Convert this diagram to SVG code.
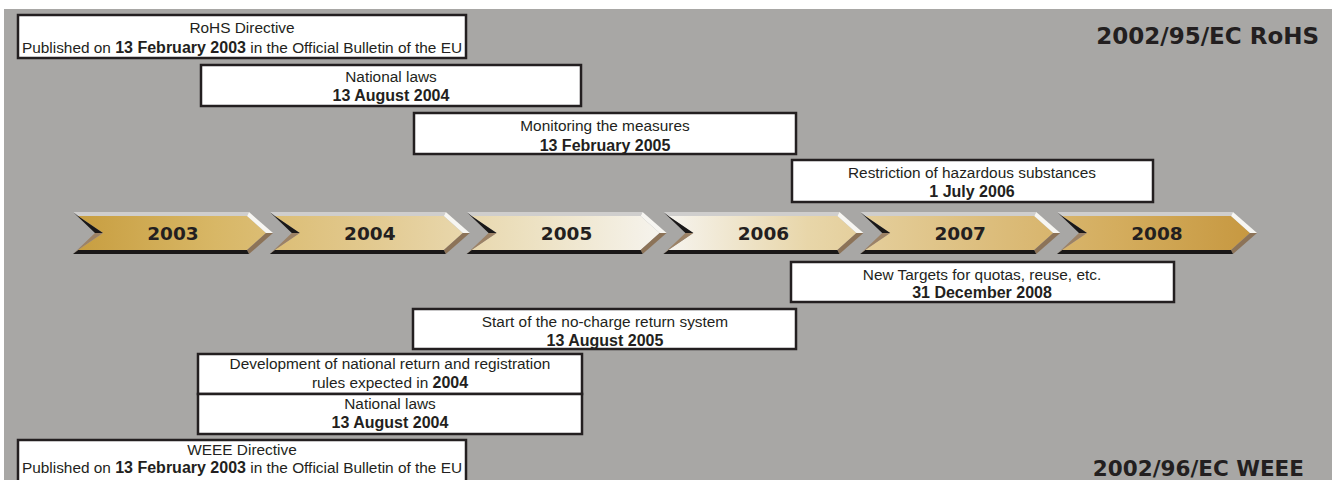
<svg xmlns="http://www.w3.org/2000/svg" width="1332" height="480" viewBox="0 0 1332 480">
<style>
.box{fill:#ffffff;stroke:#231f20;stroke-width:2.5}
.t{font-family:"Liberation Sans",Arial,sans-serif;font-size:15.4px;fill:#231f20;text-anchor:middle}
.b{font-family:"Liberation Sans",Arial,sans-serif;font-size:16px;font-weight:bold;fill:#231f20}
.yr{font-family:"DejaVu Sans",sans-serif;font-size:18.5px;font-weight:bold;fill:#231f20;text-anchor:middle}
.ttl{font-family:"DejaVu Sans",sans-serif;font-size:22.5px;font-weight:bold;fill:#231f20;text-anchor:end}
</style>
<defs>
<linearGradient id="tl" gradientUnits="userSpaceOnUse" x1="73" y1="0" x2="1258" y2="0">
<stop offset="0" stop-color="#c79d3f"/>
<stop offset="0.12" stop-color="#d8b766"/>
<stop offset="0.25" stop-color="#e2c98f"/>
<stop offset="0.38" stop-color="#ece0bf"/>
<stop offset="0.5" stop-color="#f6f4ef"/>
<stop offset="0.62" stop-color="#e8d6a9"/>
<stop offset="0.75" stop-color="#dec183"/>
<stop offset="0.88" stop-color="#d4ad5e"/>
<stop offset="1" stop-color="#c6973f"/>
</linearGradient>
<g id="bev">
<polygon points="0,212 176,212 174,216 5,216" fill="#ffffff" fill-opacity="0.45"/>
<polygon points="176,212 200,233 193,233 174,216" fill="#f7f6f2"/>
<polygon points="200,233 176,254 174,250 193,233" fill="#8c7358"/>
<polygon points="176,254 0,254 5,250 174,250" fill="#1a1818"/>
<polygon points="0,254 22,233 30,233 5,250" fill="#9c8266"/>
<polygon points="22,233 0,212 5,216 30,233" fill="#1a1818"/>
</g>
</defs>
<rect x="4" y="9" width="1328" height="471" fill="#a8a7a5"/>
<g id="connectors"/>
<g id="titles">
<text class="ttl" x="1319" y="44" style="font-size:23px">2002/95/EC RoHS</text>
<text class="ttl" x="1304" y="476" style="font-size:21.5px">2002/96/EC WEEE</text>
</g>
<g id="arrow-2003">
<polygon points="78,216 247,216 266,233 247,250 78,250 103,233" fill="url(#tl)"/>
<use href="#bev" transform="translate(73,0)"/>
<text class="yr" x="173" y="240">2003</text>
</g>
<g id="arrow-2004">
<polygon points="274.8,216 443.8,216 462.8,233 443.8,250 274.8,250 299.8,233" fill="url(#tl)"/>
<use href="#bev" transform="translate(269.8,0)"/>
<text class="yr" x="369.8" y="240">2004</text>
</g>
<g id="arrow-2005">
<polygon points="471.6,216 640.6,216 659.6,233 640.6,250 471.6,250 496.6,233" fill="url(#tl)"/>
<use href="#bev" transform="translate(466.6,0)"/>
<text class="yr" x="566.6" y="240">2005</text>
</g>
<g id="arrow-2006">
<polygon points="668.4,216 837.4,216 856.4,233 837.4,250 668.4,250 693.4,233" fill="url(#tl)"/>
<use href="#bev" transform="translate(663.4,0)"/>
<text class="yr" x="763.4" y="240">2006</text>
</g>
<g id="arrow-2007">
<polygon points="865.2,216 1034.2,216 1053.2,233 1034.2,250 865.2,250 890.2,233" fill="url(#tl)"/>
<use href="#bev" transform="translate(860.2,0)"/>
<text class="yr" x="960.2" y="240">2007</text>
</g>
<g id="arrow-2008">
<polygon points="1062,216 1231,216 1250,233 1231,250 1062,250 1087,233" fill="url(#tl)"/>
<use href="#bev" transform="translate(1057,0)"/>
<text class="yr" x="1157" y="240">2008</text>
</g>
<g id="rohs-directive">
<rect class="box" x="18" y="15" width="448" height="43"/>
<text class="t" x="242" y="33">RoHS Directive</text>
<text class="t" x="242" y="53">Published on <tspan class="b">13 February 2003</tspan> in the Official Bulletin of the EU</text>
</g>
<g id="rohs-national-laws">
<rect class="box" x="201" y="65" width="380" height="41"/>
<text class="t" x="391" y="82">National laws</text>
<text class="t" x="391" y="101"><tspan class="b">13 August 2004</tspan></text>
</g>
<g id="monitoring">
<rect class="box" x="414" y="113" width="382" height="41"/>
<text class="t" x="605" y="131">Monitoring the measures</text>
<text class="t" x="605" y="151"><tspan class="b">13 February 2005</tspan></text>
</g>
<g id="restriction">
<rect class="box" x="792" y="160" width="361" height="42"/>
<text class="t" x="972" y="178">Restriction of hazardous substances</text>
<text class="t" x="972" y="197"><tspan class="b">1 July 2006</tspan></text>
</g>
<g id="new-targets">
<rect class="box" x="791" y="262" width="383" height="40"/>
<text class="t" x="982" y="280">New Targets for quotas, reuse, etc.</text>
<text class="t" x="982" y="298"><tspan class="b">31 December 2008</tspan></text>
</g>
<g id="no-charge-return">
<rect class="box" x="413" y="309" width="383" height="40"/>
<text class="t" x="605" y="327">Start of the no-charge return system</text>
<text class="t" x="605" y="346"><tspan class="b">13 August 2005</tspan></text>
</g>
<g id="development">
<rect class="box" x="198" y="354" width="384" height="40"/>
<text class="t" x="390" y="369">Development of national return and registration</text>
<text class="t" x="390" y="388">rules expected in <tspan class="b">2004</tspan></text>
</g>
<g id="weee-national-laws">
<rect class="box" x="198" y="394" width="384" height="40"/>
<text class="t" x="390" y="409">National laws</text>
<text class="t" x="390" y="428"><tspan class="b">13 August 2004</tspan></text>
</g>
<g id="weee-directive">
<rect class="box" x="18" y="440" width="448" height="44"/>
<text class="t" x="242" y="455">WEEE Directive</text>
<text class="t" x="242" y="473">Published on <tspan class="b">13 February 2003</tspan> in the Official Bulletin of the EU</text>
</g>
</svg>
